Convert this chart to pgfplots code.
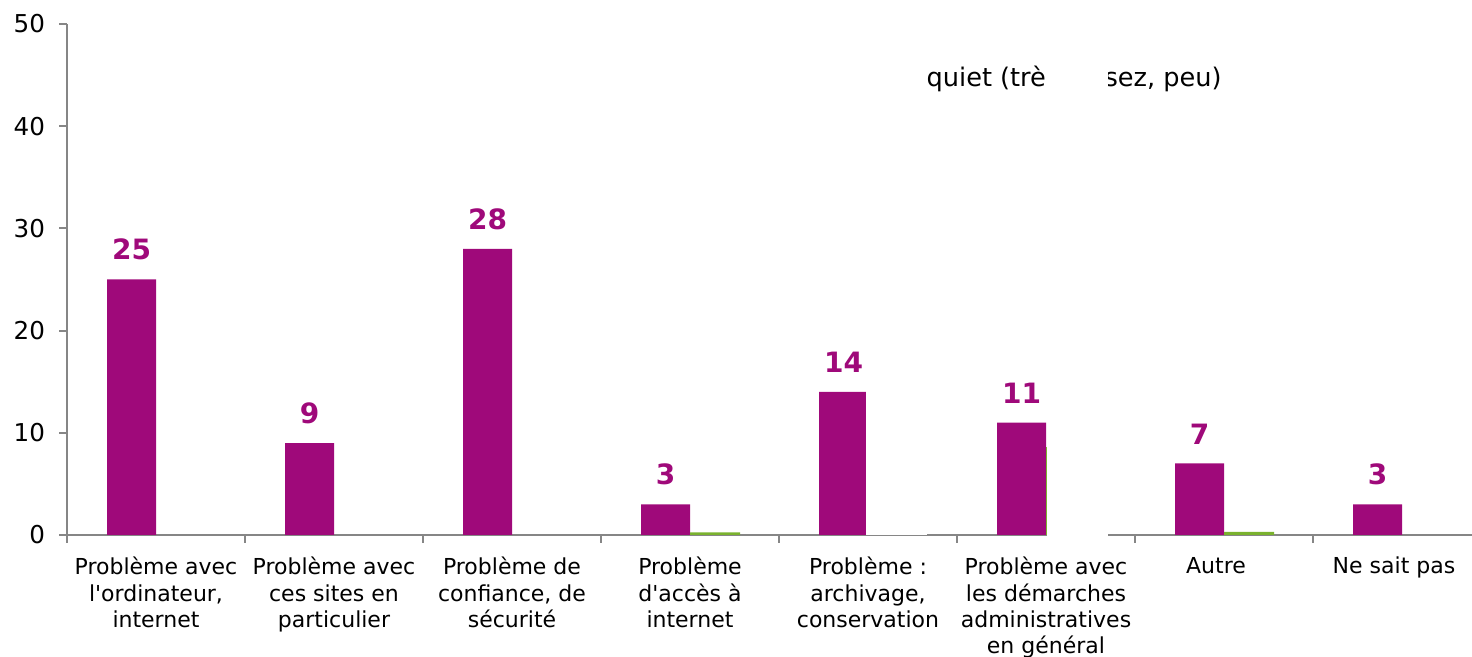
\documentclass[border=0pt]{standalone}
\usepackage{fontspec}
\setmainfont{DejaVu Sans}[Ligatures=TeXOff]
\usepackage{pgfplots}
\usepackage{pgfplotstable}
\pgfplotsset{compat=1.18}
\definecolor{barpurple}{RGB}{159,9,122}
\definecolor{bargreen}{RGB}{122,178,46}
\definecolor{axisgray}{RGB}{134,134,134}
\pgfplotstableread{
x y
0 25
1 9
2 28
3 3
4 14
5 11
6 7
7 3
}\purpledata
\pgfplotstableread{
x y
3 0.25
5 8.6
6 0.3
}\greendata
\begin{document}
\begin{tikzpicture}
\useasboundingbox (0,0) rectangle (736pt,328.5pt);
\clip (0,0) rectangle (736pt,328.5pt);
\begin{axis}[
  at={(33.5pt,61pt)}, anchor=south west,
  scale only axis, width=712pt, height=255.5pt,
  xmin=-0.5, xmax=7.5, ymin=0, ymax=50,
  axis x line=bottom, axis y line=left,
  axis line style={-, draw=axisgray, line width=1pt},
  tick style={draw=axisgray, line width=1pt},
  tick align=outside,
  major tick length=4pt,
  ytick={0,10,...,50},
  /pgf/number format/assume math mode=true,
  yticklabel style={font=\fontsize{12.3}{14}\selectfont, text=black, xshift=-3.5pt},
  xtick={-0.5,0.5,...,7.5},
  xticklabels={},
  extra x ticks={0,1,...,7},
  extra x tick labels={
    {Problème avec\\l'ordinateur,\\internet},
    {Problème avec\\ces sites en\\particulier},
    {Problème de\\confiance, de\\sécurité},
    {Problème\\d'accès à\\internet},
    {Problème :\\archivage,\\conservation},
    {Problème avec\\les démarches\\administratives\\en général},
    {Autre\hspace*{8pt}},
    {Ne sait pas\hspace*{8pt}}},
  extra x tick style={major tick length=0pt,
    tick label style={align=center, anchor=north, yshift=-7.5pt,
      font=\fontsize{11}{13.2}\selectfont, text=black}},
  ybar,
  clip=false,
]
\addplot[fill=barpurple, draw=none, bar width=24.5pt, bar shift=-12.25pt,
  nodes near coords,
  every node near coord/.append style={font=\bfseries\fontsize{14}{16}\selectfont,
    text=barpurple, anchor=south, inner sep=0pt, yshift=9.5pt}]
  table[x=x,y=y]{\purpledata};
\addplot[fill=bargreen, draw=none, bar width=25pt, bar shift=12.5pt]
  table[x=x,y=y]{\greendata};
\end{axis}
\node[anchor=base east, inner sep=0pt, font=\fontsize{12.8}{15}\selectfont] at (611pt,285pt) {Inquiet (très, assez, peu)};
\fill[white] (433pt,61pt) rectangle (463.5pt,298.5pt);
\fill[white] (523.5pt,58.5pt) rectangle (554pt,298.5pt);
\end{tikzpicture}
\end{document}
